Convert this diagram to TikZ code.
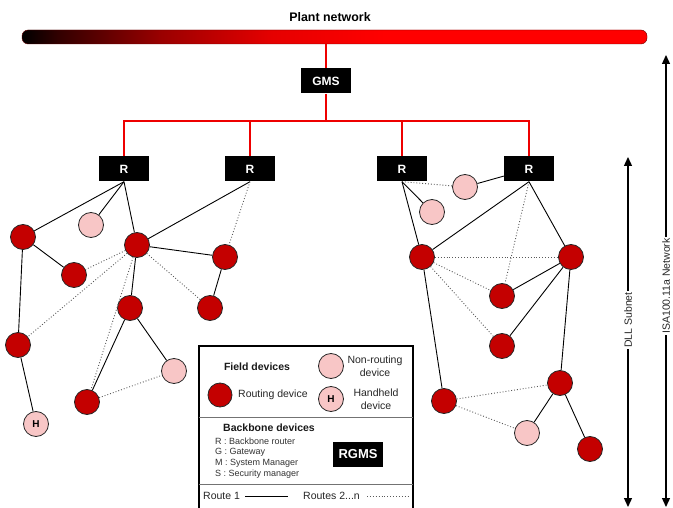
\documentclass[tikz,border=0pt]{standalone}
\usepackage{fontspec}
\setmainfont{Liberation Sans}
\usetikzlibrary{arrows.meta}
\definecolor{rt}{HTML}{C40000}
\definecolor{nr}{HTML}{F8C6C6}
\definecolor{ln}{HTML}{EE0000}
\pgfdeclarehorizontalshading{barsh}{100bp}{color(0bp)=(black); color(25bp)=(black); color(28bp)=(red!20!black); color(36bp)=(red!60!black); color(45bp)=(red!90!black); color(54bp)=(red); color(100bp)=(red)}
\begin{document}
\begin{tikzpicture}[x=1pt,y=-1pt,
  rdev/.style={circle,draw=black!85,fill=rt,line width=0.8pt,minimum size=25pt,inner sep=0pt},
  ndev/.style={circle,draw=black!85,fill=nr,line width=0.8pt,minimum size=25pt,inner sep=0pt,font=\fontsize{10}{10}\selectfont\bfseries},
  rbox/.style={fill=black,text=white,font=\fontsize{12}{12}\selectfont\bfseries,minimum width=50pt,minimum height=25pt,inner sep=0pt},
  bb/.style={draw=ln,line width=2.5pt},
  sol/.style={draw=black,line width=0.9pt},
  dot/.style={draw=black!65,line width=0.9pt,dotted},
  lgd/.style={font=\fontsize{10.5}{13}\selectfont,text=black!85,inner sep=0pt},
  lgdb/.style={font=\fontsize{10.5}{13}\selectfont\bfseries,text=black!90,inner sep=0pt},
  dim/.style={draw=black,line width=1.3pt,{Triangle[length=9pt,width=8pt]}-{Triangle[length=9pt,width=8pt]}},
  dimlbl/.style={rotate=90,fill=white,inner sep=1pt,font=\fontsize{10.5}{12}\selectfont,text=black!85}
]
\useasboundingbox (0,0) rectangle (673,508);

% plant network bar
\node[shading=barsh,draw=red!40!black,line width=0.4pt,rounded corners=6pt,minimum width=625pt,minimum height=14pt,inner sep=0pt] (bar) at (334.5,37) {};
\node[font=\fontsize{12.4}{14}\selectfont\bfseries] (plant) at (330,17) {Plant network};

% backbone
\node[rbox] (gms) at (326,81) {GMS};
\node[rbox] (r1) at (124,169) {R};
\node[rbox] (r2) at (250,169) {R};
\node[rbox] (r3) at (402,169) {R};
\node[rbox] (r4) at (529,169) {R};
\coordinate (hub) at (326,121);
\draw[bb] (gms.north |- bar.south) -- (gms.north);
\draw[bb] (gms.south) -- (hub);
\draw[bb] (r1.north) -- (r1.north |- hub) -- (r4.north |- hub) -- (r4.north);
\draw[bb] (r2.north) -- (r2.north |- hub);
\draw[bb] (r3.north) -- (r3.north |- hub);

% left cluster
\node[rdev] (a) at (23,237) {};
\node[ndev] (lp1) at (91,225) {};
\node[rdev] (b) at (137,245) {};
\node[rdev] (c) at (74,275) {};
\node[rdev] (d) at (225,257) {};
\node[rdev] (e) at (130,308) {};
\node[rdev] (f) at (210,308) {};
\node[rdev] (g) at (18,345) {};
\node[ndev] (lp2) at (174,371) {};
\node[rdev] (i) at (87,402) {};
\node[ndev] (hh) at (36,424) {H};

\draw[sol] (r1.south) -- (a);
\draw[sol] (r1.south) -- (lp1);
\draw[sol] (r1.south) -- (b);
\draw[sol] (r2.south) -- (b);
\draw[dot] (r2.south) -- (d);
\draw[sol] (a) -- (c);
\draw[sol] (a) -- (g);
\draw[sol] (g) -- (hh);
\draw[sol] (b) -- (d);
\draw[sol] (d) -- (f);
\draw[sol] (b) -- (e);
\draw[sol] (e) -- (i);
\draw[sol] (e) -- (lp2);
\draw[dot] (b) -- (c);
\draw[dot] (b) -- (g);
\draw[dot] (b) -- (i);
\draw[dot] (b) -- (f);
\draw[dot] (i) -- (lp2);

% right cluster
\node[ndev] (rp1) at (465,187) {};
\node[ndev] (rp2) at (432,212) {};
\node[rdev] (j) at (422,257) {};
\node[rdev] (k) at (571,257) {};
\node[rdev] (l) at (502,296) {};
\node[rdev] (m) at (502,346) {};
\node[rdev] (n) at (560,383) {};
\node[rdev] (o) at (444,401) {};
\node[ndev] (rq) at (527,433) {};
\node[rdev] (p) at (590,449) {};

\draw[dot] (r3.south) -- (rp1);
\draw[sol] (rp1) -- (r4);
\draw[sol] (r3.south) -- (rp2);
\draw[sol] (r3.south) -- (j);
\draw[sol] (r4.south) -- (j);
\draw[dot] (r4.south) -- (l);
\draw[sol] (r4.south) -- (k);
\draw[dot] (j) -- (k);
\draw[dot] (j) -- (l);
\draw[dot] (j) -- (m);
\draw[sol] (j) -- (o);
\draw[sol] (k) -- (l);
\draw[sol] (k) -- (m);
\draw[sol] (k) -- (n);
\draw[dot] (o) -- (n);
\draw[dot] (o) -- (rq);
\draw[sol] (n) -- (rq);
\draw[sol] (n) -- (p);

% legend
\draw[black,line width=1.4pt,fill=white] (199,346) rectangle (413,511);
\draw[black!55,line width=0.8pt] (199,417) -- (413,417);
\draw[black!55,line width=0.8pt] (199,484) -- (413,484);
\node[lgdb] (fdt) at (257,367) {Field devices};
\node[ndev] (lnr) at (331,366) {};
\node[lgd,align=center] (lnrt) at (375,366.5) {Non-routing\\device};
\node[rdev,minimum size=24pt] (lrd) at (220,395) {};
\node[lgd,anchor=west] (lrdt) at (238,395) {Routing device};
\node[ndev] (lhh) at (331,399) {H};
\node[lgd,align=center] (lhht) at (376,399.5) {Handheld\\device};
\node[lgdb,anchor=west] (bbt) at (223,428) {Backbone devices};
\node[anchor=north west,align=left,inner sep=0pt,text=black!80,font=\fontsize{9}{10.7}\selectfont] (list) at (215,437.5) {R : Backbone router\\G : Gateway\\M : System Manager\\S : Security manager};
\node[rbox,font=\fontsize{13}{13}\selectfont\bfseries] (rgms) at (358,454) {RGMS};
\node[lgd,anchor=west] (rt1) at (203,496) {Route 1};
\coordinate (s1a) at (245,496);
\coordinate (s1b) at (288,496);
\draw[black,line width=0.9pt] (s1a) -- (s1b);
\node[lgd,anchor=west] (rtn) at (303,496) {Routes 2...n};
\coordinate (s2a) at (367,496);
\coordinate (s2b) at (408,496);
\draw[dot] (s2a) -- (s2b);

% extent arrows
\coordinate (dllt) at (628,157);
\coordinate (dllb) at (628,507);
\draw[dim] (dllt) -- (dllb);
\node[dimlbl] (dlll) at (628,320) {DLL Subnet};
\coordinate (isat) at (666,55);
\coordinate (isab) at (666,507);
\draw[dim] (isat) -- (isab);
\node[dimlbl] (isal) at (666,286) {ISA100.11a Network};
\end{tikzpicture}
\end{document}
